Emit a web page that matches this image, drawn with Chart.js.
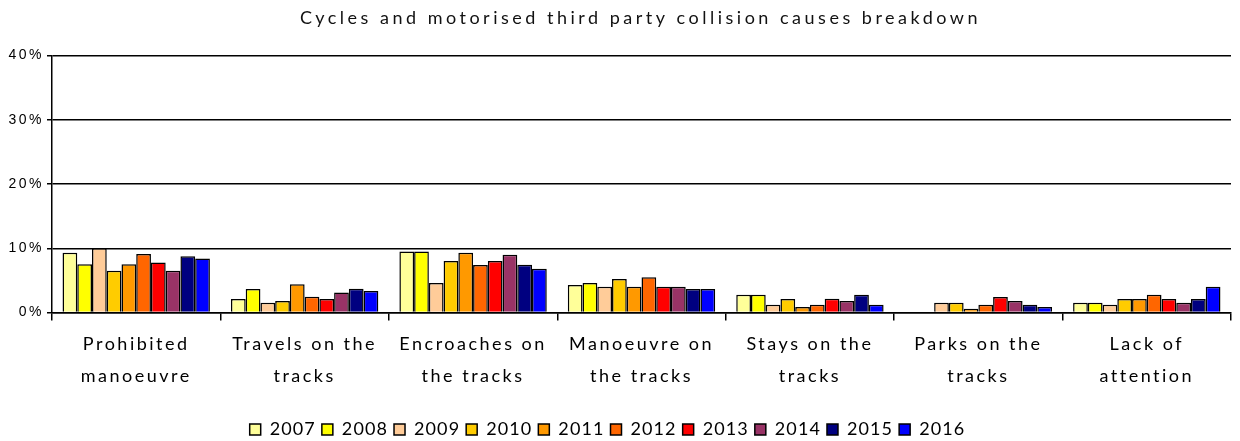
<!DOCTYPE html>
<html>
<head>
<meta charset="utf-8">
<script src="https://cdn.jsdelivr.net/npm/chart.js@4.4.0/dist/chart.umd.min.js"></script>
<style>
  html, body { margin: 0; padding: 0; background: #fff; }
  #wrap { width: 1240px; height: 441px; }
</style>
</head>
<body>
<div id="wrap"><canvas id="myChart"></canvas></div>
<script>
// Collision causes, share of cycle / motorised third party collisions per year
const categories = [
    ["Prohibited", "manoeuvre"],
    ["Travels on the", "tracks"],
    ["Encroaches on", "the tracks"],
    ["Manoeuvre on", "the tracks"],
    ["Stays on the", "tracks"],
    ["Parks on the", "tracks"],
    ["Lack of", "attention"]
];
const years = ["2007", "2008", "2009", "2010", "2011", "2012", "2013", "2014", "2015", "2016"];
const yTicks = [0, 10, 20, 30, 40];

const v2007 = [9.3, 2.1, 9.5, 4.3, 2.75, 0, 1.5];
const v2008 = [7.5, 3.65, 9.5, 4.6, 2.75, 0, 1.5];
const v2009 = [10.0, 1.5, 4.6, 4.0, 1.2, 1.5, 1.2];
const v2010 = [6.5, 1.8, 8.0, 5.2, 2.1, 1.5, 2.1];
const v2011 = [7.5, 4.4, 9.3, 4.0, 0.85, 0.57, 2.1];
const v2012 = [9.1, 2.45, 7.4, 5.5, 1.2, 1.2, 2.75];
const v2013 = [7.8, 2.1, 8.0, 4.0, 2.15, 2.4, 2.1];
const v2014 = [6.5, 3.1, 9.0, 4.0, 1.8, 1.8, 1.5];
const v2015 = [8.75, 3.7, 7.45, 3.65, 2.75, 1.2, 2.1];
const v2016 = [8.4, 3.35, 6.8, 3.65, 1.2, 0.85, 4.0];

const series = [v2007, v2008, v2009, v2010, v2011, v2012, v2013, v2014, v2015, v2016];
const colors = ['#FFFF99', '#FFFF00', '#FFCC99', '#FFCC00', '#FF9900', '#FF6600', '#FF0000', '#993366', '#000080', '#0000FF'];

const labelFont = "Lato, 'Open Sans', sans-serif";

// wide letter spacing; title and legend get their own amount (and a small horizontal nudge)
const spacing = { base: '2.5px', title: '3.5px', legend: '1.1px' };

const wrapSpacing = (obj, method, amount, dx = 0) => {
    if (!obj || obj['_sp_' + method]) return;
    const orig = obj[method];
    obj[method] = function (...args) {
        const c = this.ctx || this.chart.ctx;
        c.save();
        c.letterSpacing = amount;
        if (dx) c.translate(dx, 0);
        const r = orig.apply(this, args);
        c.restore();
        return r;
    };
    obj['_sp_' + method] = true;
};

const letterSpacingPlugin = {
    id: 'letterSpacing',
    beforeLayout(chart) {
        chart.ctx.letterSpacing = spacing.base;
        wrapSpacing(chart.legend, 'fit', spacing.legend);
        wrapSpacing(chart.legend, 'draw', spacing.legend, -8);
        wrapSpacing(chart.titleBlock, 'draw', spacing.title, 25);
    },
    beforeDraw(chart) {
        chart.ctx.letterSpacing = spacing.base;
    }
};

const ctx = document.getElementById("myChart").getContext("2d");
new Chart(ctx, {
    type: 'bar',
    plugins: [letterSpacingPlugin],
    data: {
        labels: categories,
        datasets: years.map((y, i) => ({
            label: y,
            data: series[i],
            backgroundColor: colors[i],
            borderColor: '#000',
            borderWidth: 1.5,
            borderSkipped: 'bottom'
        }))
    },
    options: {
        responsive: true,
        maintainAspectRatio: false,
        animation: false,
        layout: { padding: { left: 0, right: 9, top: 0, bottom: -7.5 } },
        datasets: { bar: { barPercentage: 1, categoryPercentage: 0.875 } },
        plugins: {
            title: {
                display: true,
                text: 'Cycles and motorised third party collision causes breakdown',
                color: '#111',
                font: { family: labelFont, size: 18, weight: 'normal' },
                padding: { top: 7, bottom: 27 }
            },
            legend: {
                position: 'bottom',
                labels: {
                    color: '#000',
                    boxWidth: 11,
                    boxHeight: 11,
                    padding: 6,
                    font: { family: labelFont, size: 18 }
                }
            },
            tooltip: { enabled: false }
        },
        scales: {
            x: {
                afterFit: s => { s.height = 102; },
                grid: { drawOnChartArea: false, drawTicks: true, tickLength: 8, color: '#000', lineWidth: 1.5 },
                border: { color: '#000', width: 1.5 },
                ticks: {
                    color: '#000',
                    maxRotation: 0,
                    autoSkip: false,
                    padding: 8,
                    font: { family: labelFont, size: 18, lineHeight: 1.78 }
                }
            },
            y: {
                min: 0,
                max: 40,
                afterFit: s => { s.width = 52; },
                afterBuildTicks: s => { s.ticks = yTicks.map(v => ({ value: v })); },
                grid: { color: '#000', lineWidth: 1.5, tickLength: 5 },
                border: { color: '#000', width: 1.5 },
                ticks: {
                    color: '#000',
                    padding: 3,
                    font: { family: "'Liberation Sans', Arial, sans-serif", size: 14 },
                    callback: v => v + '%'
                }
            }
        }
    }
});
</script>
</body>
</html>
